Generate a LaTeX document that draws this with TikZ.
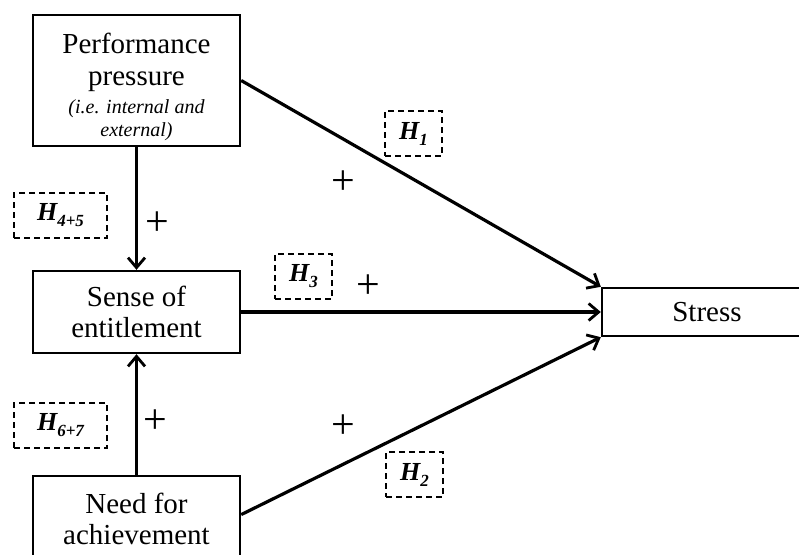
\documentclass[tikz,border=0pt]{standalone}
\usepackage{fontspec}
\setmainfont{Liberation Serif}
\usetikzlibrary{arrows.meta,calc}
\newcommand{\hsub}[1]{H\raisebox{-6pt}{\fontsize{17}{17}\selectfont #1}}
\begin{document}
\begin{tikzpicture}[x=1pt,y=-1pt,
  box/.style={draw, line width=2.4pt, inner sep=0pt, align=center, font=\fontsize{29}{31}\selectfont},
  hyp/.style={draw, dash pattern=on 6pt off 4pt, line width=2pt, minimum height=45pt, inner sep=0pt, font=\fontsize{26}{26}\selectfont\bfseries\itshape},
  plus/.style={font=\fontsize{42}{42}\selectfont, inner sep=0pt},
  arr/.style={line width=3.2pt, -{Straight Barb[length=10pt,width=17pt,line width=2.8pt]}},
]
\useasboundingbox (0,0) rectangle (799,554);
\clip (0,0) rectangle (799,554);
\node[box, minimum width=207pt, minimum height=131pt] (perf) at (136.5,80.5)
  {\rule{0pt}{34pt}Performance\\[1pt]pressure\\[-3pt]\fontsize{20}{23}\selectfont\itshape (i.e. internal and\\[-8pt]\fontsize{20}{23}\selectfont\itshape external)};
\node[box, minimum width=207pt, minimum height=82pt] (sense) at (136.5,312) {Sense of\\entitlement};
\node[box, minimum width=207pt, minimum height=86pt] (need) at (136.5,519) {Need for\\achievement};
\node[box, minimum width=210pt, minimum height=48pt] (stress) at (707,312) {Stress};

\draw[arr] (perf.east) -- (stress.north west);
\draw[arr] (sense.east) -- (stress.west);
\draw[arr] ($(need.north east)!0.45!(need.south east)$) -- (stress.south west);
\draw[arr] (perf.south) -- (sense.north);
\draw[arr] (need.north) -- (sense.south);

\node[hyp, minimum width=93pt] (h45) at (60.5,215.5) {\hsub{4+5}};
\node[hyp, minimum width=93pt] (h67) at (60.5,425.5) {\hsub{6+7}};
\node[hyp, minimum width=57pt] (h1) at (413.5,133.5) {\hsub{1}};
\node[hyp, minimum width=57pt] (h3) at (303.5,276.5) {\hsub{3}};
\node[hyp, minimum width=57pt] (h2) at (414.5,474.5) {\hsub{2}};

\node[plus] (p45) at (157,224) {+};
\node[plus] (p67) at (155,422) {+};
\node[plus] (p1) at (343,183) {+};
\node[plus] (p3) at (368,287) {+};
\node[plus] (p2) at (343,427) {+};
\end{tikzpicture}
\end{document}
